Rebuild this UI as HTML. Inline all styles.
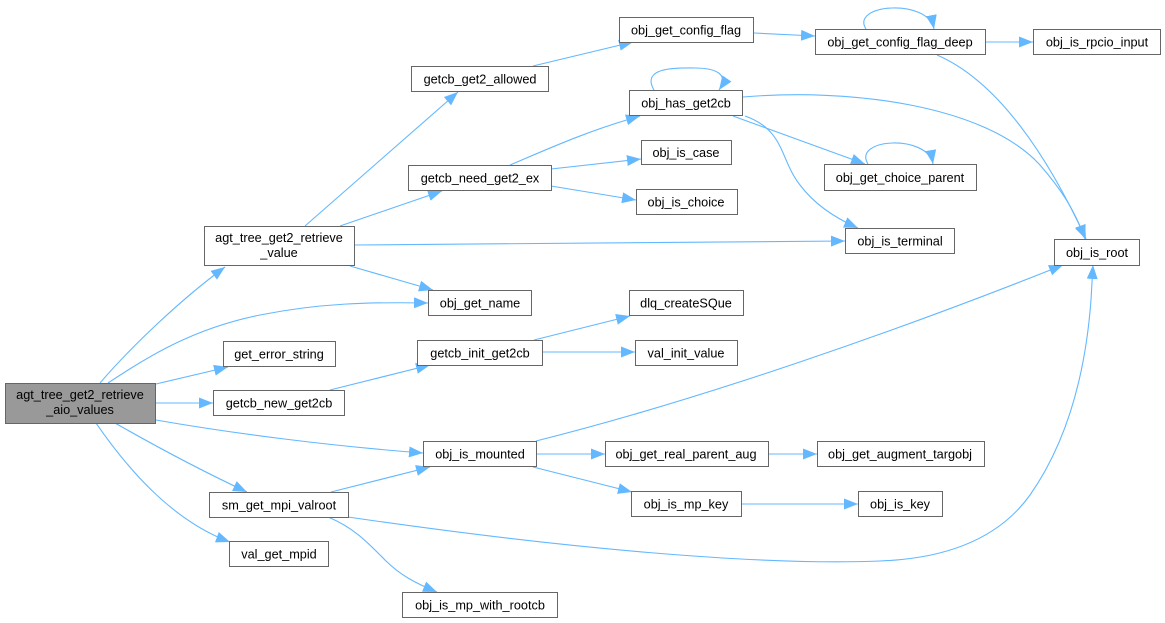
<!DOCTYPE html>
<html><head><meta charset="utf-8"><style>
html,body{margin:0;padding:0;background:#fff;}
svg{display:block;}
text{font-family:"Liberation Sans",Arial,sans-serif;font-size:12.7px;fill:#000;text-anchor:middle;}
.n{fill:#fff;stroke:#666;stroke-width:1;}
.e{fill:none;stroke:#63b8ff;stroke-width:1.1;}
</style></head><body>
<svg width="1165" height="623" viewBox="0 0 1165 623" xmlns="http://www.w3.org/2000/svg">
<defs>
<marker id="a" markerUnits="userSpaceOnUse" markerWidth="15" markerHeight="11" refX="14" refY="5.5" orient="auto">
<path d="M0,0 L14,5.5 L0,11 z" fill="#63b8ff"/>
</marker>
</defs>
<g marker-end="url(#a)">
<path class="e" d="M100,383 C130,348 180,300 225,267"/>
<path class="e" d="M108,383 C150,355 195,328 260,315 C320,303 370,302 428,303"/>
<path class="e" d="M156,384 L228,367"/>
<path class="e" d="M156,403 L213,403"/>
<path class="e" d="M156,420 C230,433 330,446 423,453"/>
<path class="e" d="M115,423 C150,443 200,470 247,492"/>
<path class="e" d="M96,423 C125,465 170,520 230,542"/>
<path class="e" d="M305,226 L458,92"/>
<path class="e" d="M340,226 L442,191"/>
<path class="e" d="M354,245 L845,241"/>
<path class="e" d="M350,266 L433,290"/>
<path class="e" d="M533,66 L633,42"/>
<path class="e" d="M754,33 L815,36"/>
<path class="e" d="M866,29 C850,4 928,-2 934,29"/>
<path class="e" d="M985,42 L1033,42"/>
<path class="e" d="M937,55 C995,80 1045,150 1086,239"/>
<path class="e" d="M654,90 C640,66 680,68 695,68 C715,68 730,74 719,90"/>
<path class="e" d="M743,97 C850,88 985,105 1040,165 C1060,188 1075,210 1085,239"/>
<path class="e" d="M733,116 L865,164"/>
<path class="e" d="M745,116 C785,130 780,160 800,185 C815,205 835,218 858,228"/>
<path class="e" d="M510,165 C550,148 590,130 640,116"/>
<path class="e" d="M551,169 L641,159"/>
<path class="e" d="M551,186 L636,200"/>
<path class="e" d="M868,164 C852,138 928,134 933,164"/>
<path class="e" d="M330,390 L430,365"/>
<path class="e" d="M534,340 L630,316"/>
<path class="e" d="M542,352 L635,352"/>
<path class="e" d="M536,441 C700,400 900,330 1063,265"/>
<path class="e" d="M536,454 L605,454"/>
<path class="e" d="M533,467 L632,492"/>
<path class="e" d="M768,454 L817,454"/>
<path class="e" d="M741,504 L858,504"/>
<path class="e" d="M331,492 L430,467"/>
<path class="e" d="M348,517 C560,548 760,566 880,561 C960,558 1005,530 1030,495 C1065,445 1085,380 1091,300 L1093,265"/>
<path class="e" d="M328,517 C355,528 370,545 385,560 C400,575 415,583 437,592"/>
</g>

<rect x="5.5" y="383.5" width="150" height="40" fill="#999" stroke="#666"/>
<text x="80" y="399">agt_tree_get2_retrieve</text>
<text x="80" y="414">_aio_values</text>

<rect class="n" x="204.5" y="226.5" width="150" height="39"/>
<text x="279" y="242">agt_tree_get2_retrieve</text>
<text x="279" y="257">_value</text>

<rect class="n" x="411.5" y="66.5" width="137" height="25"/>
<text x="480" y="83.5">getcb_get2_allowed</text>

<rect class="n" x="619.5" y="17.5" width="134" height="25"/>
<text x="686" y="34.5">obj_get_config_flag</text>

<rect class="n" x="815.5" y="29.5" width="170" height="25"/>
<text x="900" y="46.5">obj_get_config_flag_deep</text>

<rect class="n" x="1033.5" y="29.5" width="127" height="25"/>
<text x="1097" y="46.5">obj_is_rpcio_input</text>

<rect class="n" x="629.5" y="90.5" width="113" height="25"/>
<text x="686" y="107.5">obj_has_get2cb</text>

<rect class="n" x="641.5" y="140.5" width="90" height="24"/>
<text x="686" y="157">obj_is_case</text>

<rect class="n" x="408.5" y="165.5" width="143" height="25"/>
<text x="480" y="182.5">getcb_need_get2_ex</text>

<rect class="n" x="636.5" y="189.5" width="101" height="25"/>
<text x="686" y="206.5">obj_is_choice</text>

<rect class="n" x="824.5" y="164.5" width="152" height="26"/>
<text x="900" y="182">obj_get_choice_parent</text>

<rect class="n" x="845.5" y="228.5" width="109" height="25"/>
<text x="900" y="245.5">obj_is_terminal</text>

<rect class="n" x="1054.5" y="239.5" width="85" height="26"/>
<text x="1097" y="257">obj_is_root</text>

<rect class="n" x="428.5" y="290.5" width="103" height="25"/>
<text x="480" y="307.5">obj_get_name</text>

<rect class="n" x="629.5" y="290.5" width="114" height="25"/>
<text x="686" y="307.5">dlq_createSQue</text>

<rect class="n" x="223.5" y="341.5" width="112" height="25"/>
<text x="279" y="358.5">get_error_string</text>

<rect class="n" x="213.5" y="390.5" width="131" height="25"/>
<text x="279" y="407.5">getcb_new_get2cb</text>

<rect class="n" x="417.5" y="340.5" width="125" height="25"/>
<text x="480" y="357.5">getcb_init_get2cb</text>

<rect class="n" x="635.5" y="340.5" width="102" height="25"/>
<text x="686" y="357.5">val_init_value</text>

<rect class="n" x="423.5" y="441.5" width="113" height="25"/>
<text x="480" y="458.5">obj_is_mounted</text>

<rect class="n" x="605.5" y="441.5" width="163" height="25"/>
<text x="686" y="458.5">obj_get_real_parent_aug</text>

<rect class="n" x="817.5" y="441.5" width="167" height="25"/>
<text x="900" y="458.5">obj_get_augment_targobj</text>

<rect class="n" x="631.5" y="491.5" width="110" height="25"/>
<text x="686" y="508.5">obj_is_mp_key</text>

<rect class="n" x="858.5" y="491.5" width="84" height="25"/>
<text x="900" y="508.5">obj_is_key</text>

<rect class="n" x="209.5" y="492.5" width="139" height="25"/>
<text x="279" y="509.5">sm_get_mpi_valroot</text>

<rect class="n" x="229.5" y="541.5" width="99" height="25"/>
<text x="279" y="558.5">val_get_mpid</text>

<rect class="n" x="402.5" y="592.5" width="155" height="25"/>
<text x="480" y="609.5">obj_is_mp_with_rootcb</text>
</svg>
</body></html>
